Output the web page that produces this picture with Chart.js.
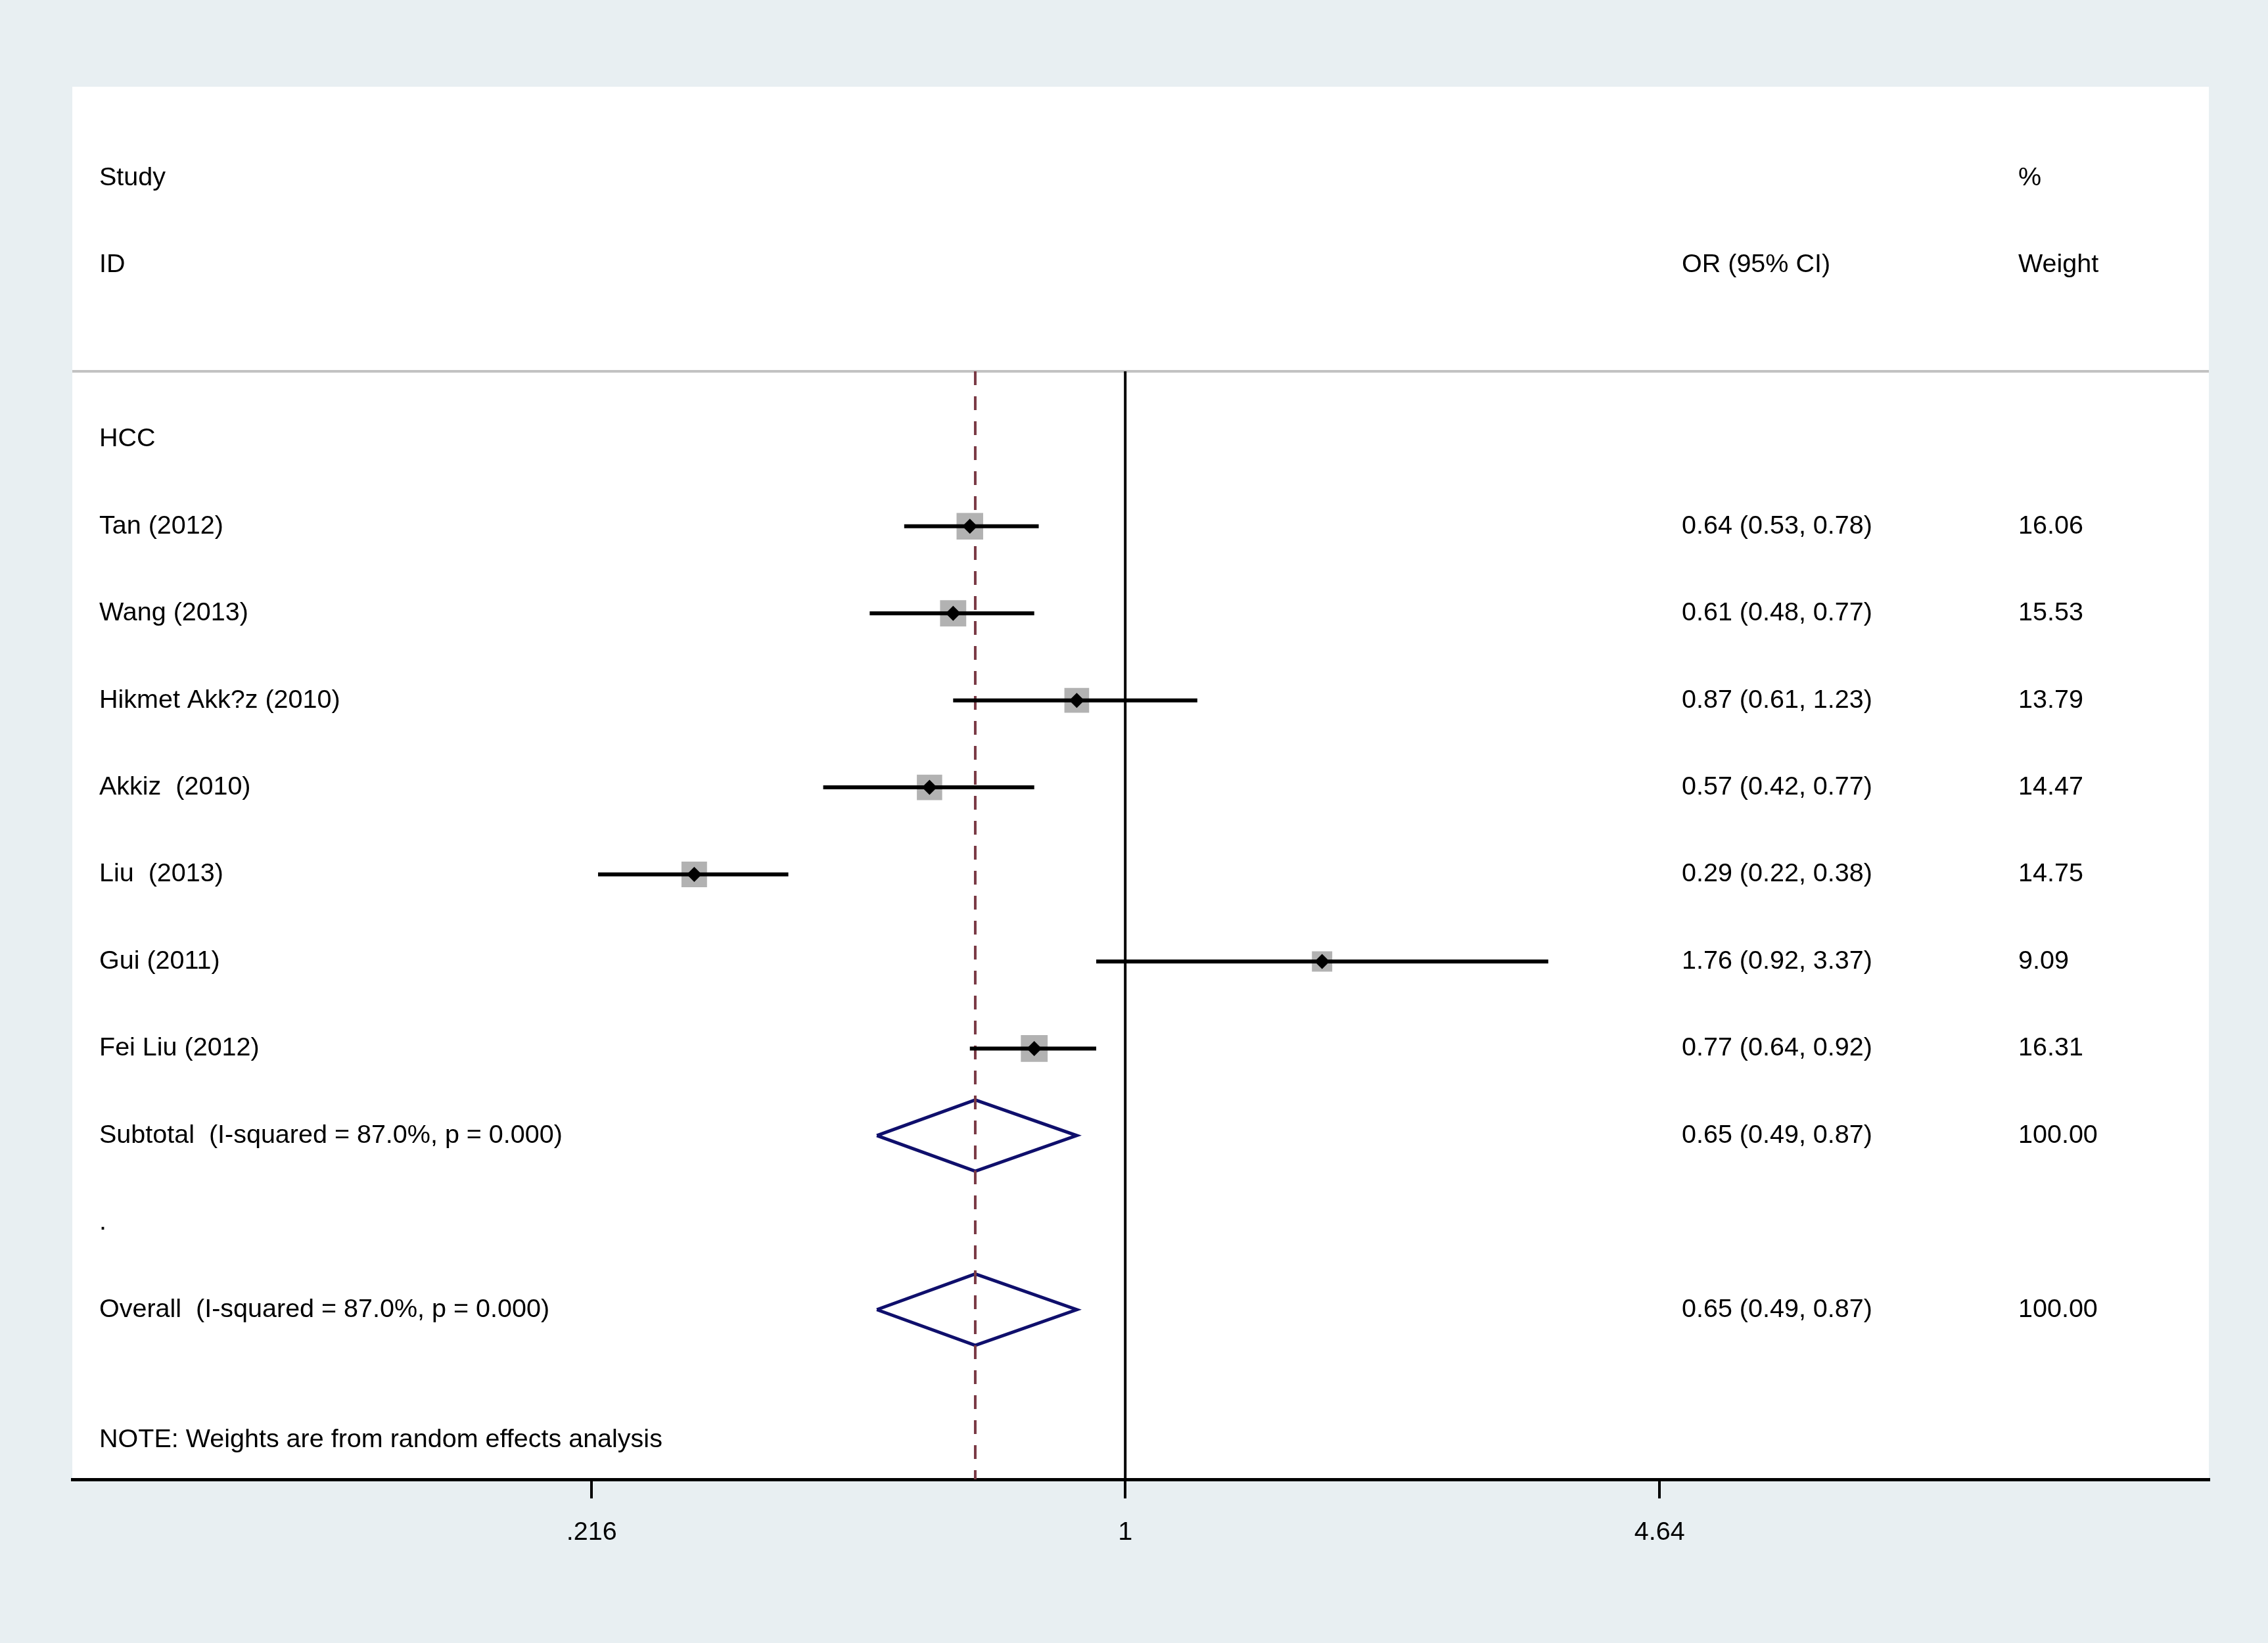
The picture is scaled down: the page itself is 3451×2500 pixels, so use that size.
<!DOCTYPE html>
<html>
<head>
<meta charset="utf-8">
<script src="https://cdn.jsdelivr.net/npm/chart.js@4.4.1/dist/chart.umd.min.js"></script>
<style>
  html, body { margin: 0; padding: 0; background: #e8eff2; }
  #wrap { width: 3451px; height: 2500px; }
</style>
</head>
<body>
<div id="wrap"><canvas id="forest" width="3451" height="2500"></canvas></div>
<script>
// Study level results
const studies = ['Tan (2012)', 'Wang (2013)', 'Hikmet Akk?z (2010)', 'Akkiz  (2010)', 'Liu  (2013)', 'Gui (2011)', 'Fei Liu (2012)'];
const orValues = [0.64, 0.61, 0.87, 0.57, 0.29, 1.76, 0.77];
const ciLower = [0.53, 0.48, 0.61, 0.42, 0.22, 0.92, 0.64];
const ciUpper = [0.78, 0.77, 1.23, 0.77, 0.38, 3.37, 0.92];
const weights = [16.06, 15.53, 13.79, 14.47, 14.75, 9.09, 16.31];

// Pooled estimates
const pooledLabels = ['Subtotal  (I-squared = 87.0%, p = 0.000)', 'Overall  (I-squared = 87.0%, p = 0.000)'];
const pooledOR = [0.65, 0.65];
const pooledLower = [0.49, 0.49];
const pooledUpper = [0.87, 0.87];
const pooledWeights = [100.00, 100.00];

const groupLabel = 'HCC';
const noteText = 'NOTE: Weights are from random effects analysis';
const tickValues = [0.216, 1, 4.64];
const tickLabels = ['.216', '1', '4.64'];

// row layout (y scale is in row units, top to bottom)
const studyRows = studies.map((s, i) => i + 1);
const pooledRows = [8, 10];
const SEP_ROW = -0.78;
const Y_MIN = -4.05, Y_MAX = 11.95;
const X_MIN = 0.0486, X_MAX = 22.47;
const DIAMOND_HALF = 0.41;

const BG = '#e8eff2';
const FONT = '"Liberation Sans", Arial, sans-serif';

const fmt = (v) => v.toFixed(2);
// box side grows with sqrt(weight); 'rect' point side = radius * sqrt(2)
const boxRadius = (w) => (9.6 * Math.sqrt(w) + 2) / Math.SQRT2;

const ciSets = studies.map((s, i) => ({
    label: 'ci ' + s,
    data: [{ x: ciLower[i], y: studyRows[i] }, { x: ciUpper[i], y: studyRows[i] }],
    showLine: true,
    borderColor: '#000',
    borderWidth: 6,
    pointRadius: 0,
    order: 1
}));

const diamondSets = pooledOR.map((est, i) => {
    const r = pooledRows[i];
    return {
        label: 'pooled ' + i,
        data: [
            { x: pooledLower[i], y: r },
            { x: est, y: r - DIAMOND_HALF },
            { x: pooledUpper[i], y: r },
            { x: est, y: r + DIAMOND_HALF },
            { x: pooledLower[i], y: r }
        ],
        showLine: true,
        borderColor: '#0f0f6c',
        borderWidth: 5,
        borderJoinStyle: 'miter',
        pointRadius: 0,
        order: 4
    };
});

const datasets = [
    {
        label: 'estimate',
        data: orValues.map((v, i) => ({ x: v, y: studyRows[i] })),
        pointStyle: 'rectRot',
        pointRadius: 11.5,
        pointBackgroundColor: '#000',
        pointBorderWidth: 0,
        order: 0
    },
    ...ciSets,
    {
        label: 'weight box',
        data: orValues.map((v, i) => ({ x: v, y: studyRows[i] })),
        pointStyle: 'rect',
        pointRadius: weights.map(boxRadius),
        pointBackgroundColor: '#b2b2b2',
        pointBorderWidth: 0,
        order: 2
    },
    {
        label: 'pooled line',
        data: [{ x: pooledOR[1], y: SEP_ROW }, { x: pooledOR[1], y: Y_MAX }],
        showLine: true,
        borderColor: '#7a3a45',
        borderWidth: 4,
        borderDash: [21, 17],
        pointRadius: 0,
        order: 3
    },
    ...diamondSets,
    {
        label: 'null line',
        data: [{ x: 1, y: SEP_ROW }, { x: 1, y: Y_MAX }],
        showLine: true,
        borderColor: '#000',
        borderWidth: 4,
        pointRadius: 0,
        order: 5
    },
    {
        label: 'separator',
        data: [{ x: X_MIN, y: SEP_ROW }, { x: X_MAX, y: SEP_ROW }],
        showLine: true,
        borderColor: '#c2c2c2',
        borderWidth: 4,
        pointRadius: 0,
        order: 6
    }
];

// background panels + the table text
const forestText = {
    id: 'forestText',
    beforeDraw(chart) {
        const { ctx, chartArea: a } = chart;
        ctx.save();
        ctx.fillStyle = BG;
        ctx.fillRect(0, 0, chart.width, chart.height);
        ctx.fillStyle = '#fff';
        ctx.fillRect(a.left, a.top, a.right - a.left, a.bottom - a.top);
        ctx.restore();
    },
    afterDatasetsDraw(chart) {
        const ctx = chart.ctx;
        const ys = chart.scales.y;
        const colId = 151, colOR = 2559, colW = 3071;
        ctx.save();
        ctx.font = '39.5px ' + FONT;
        ctx.fillStyle = '#000';
        ctx.textBaseline = 'middle';
        ctx.textAlign = 'left';
        const put = (txt, x, row) => ctx.fillText(txt, x, ys.getPixelForValue(row));

        put('Study', colId, -3);
        put('ID', colId, -2);
        put('%', colW, -3);
        put('OR (95% CI)', colOR, -2);
        put('Weight', colW, -2);

        put(groupLabel, colId, 0);
        studies.forEach((s, i) => {
            put(s, colId, studyRows[i]);
            put(`${fmt(orValues[i])} (${fmt(ciLower[i])}, ${fmt(ciUpper[i])})`, colOR, studyRows[i]);
            put(fmt(weights[i]), colW, studyRows[i]);
        });
        pooledLabels.forEach((s, i) => {
            put(s, colId, pooledRows[i]);
            put(`${fmt(pooledOR[i])} (${fmt(pooledLower[i])}, ${fmt(pooledUpper[i])})`, colOR, pooledRows[i]);
            put(fmt(pooledWeights[i]), colW, pooledRows[i]);
        });
        put('.', colId, 9);
        put(noteText, colId, 11.5);
        ctx.restore();
    }
};

new Chart(document.getElementById('forest'), {
    type: 'scatter',
    data: { datasets },
    options: {
        responsive: false,
        devicePixelRatio: 1,
        animation: false,
        events: [],
        layout: { padding: { left: 110, right: 90, top: 132, bottom: 0 } },
        plugins: { legend: { display: false }, tooltip: { enabled: false } },
        scales: {
            x: {
                type: 'logarithmic',
                min: X_MIN,
                max: X_MAX,
                afterBuildTicks: (axis) => { axis.ticks = tickValues.map(v => ({ value: v })); },
                afterFit: (axis) => { axis.height = 249; },
                ticks: {
                    callback: (v, i) => tickLabels[i],
                    color: '#000',
                    font: { family: FONT, size: 39.5 },
                    padding: 28,
                    maxRotation: 0,
                    autoSkip: false
                },
                grid: { drawOnChartArea: false, drawTicks: true, tickLength: 29, color: '#000', lineWidth: 4 },
                border: { display: true, color: '#000', width: 5 }
            },
            y: {
                type: 'linear',
                min: Y_MIN,
                max: Y_MAX,
                reverse: true,
                display: false
            }
        }
    },
    plugins: [forestText]
});
</script>
</body>
</html>
